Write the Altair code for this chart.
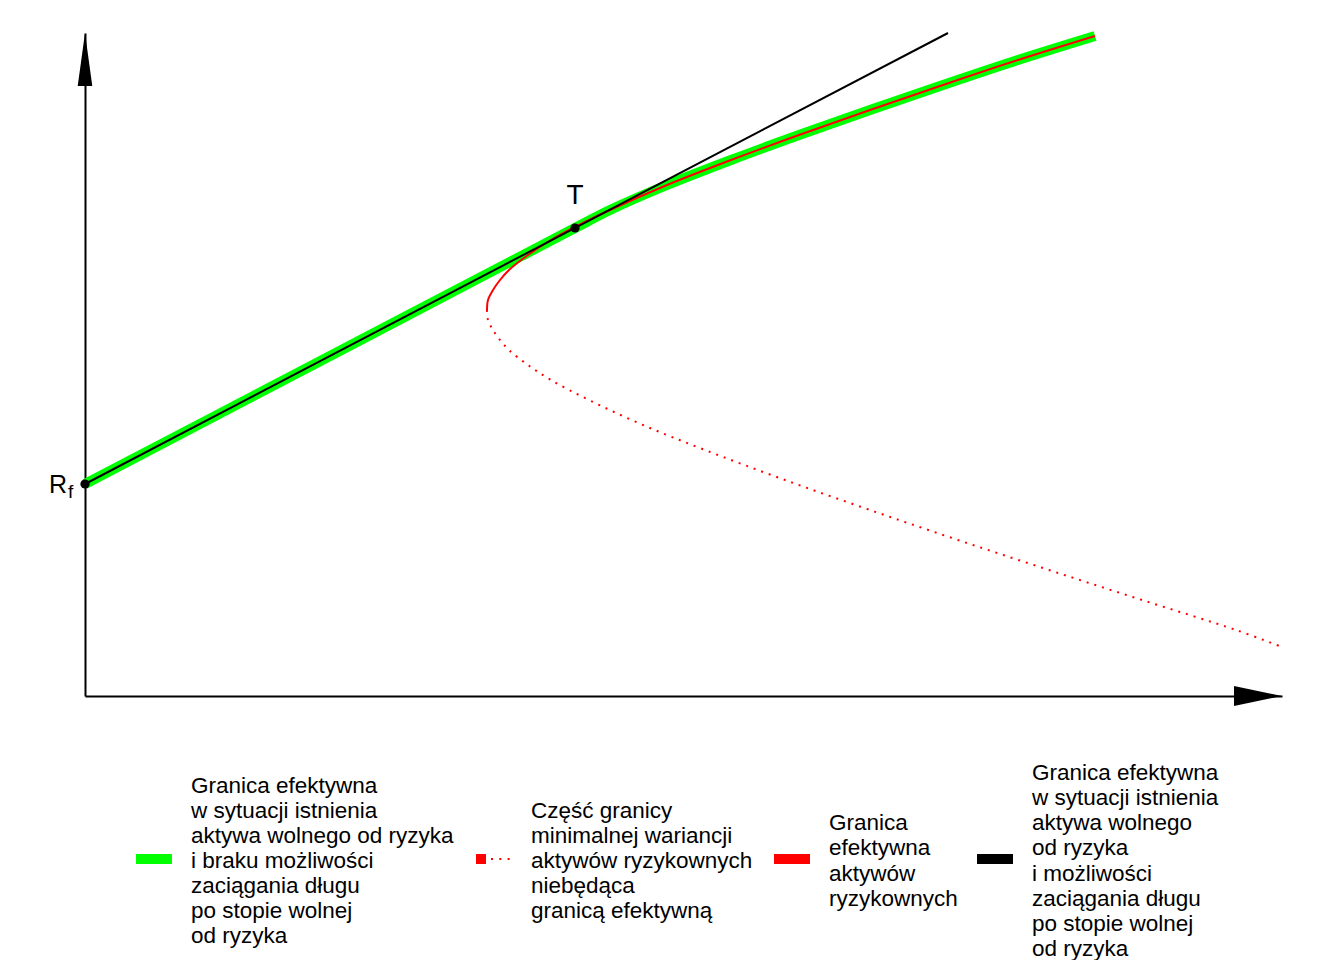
import altair as alt
import pandas as pd

# ---- values (x: risk, y: expected return; arbitrary units) ----
# upper branch of the minimum-variance hyperbola (efficient frontier of risky assets)
upper_sigma = [40.2, 40.3, 40.8, 41.5, 42.4, 44.3, 46.6, 48.8, 52.5, 58.2, 64.6, 71.4, 78.5, 85.8, 93.3, 101.0]
upper_ret = [38.6, 39.6, 40.6, 41.6, 42.6, 44.1, 45.6, 46.8, 48.6, 51.1, 53.6, 56.1, 58.6, 61.1, 63.6, 66.0]
# lower branch (not efficient)
lower_sigma = [40.2, 40.3, 40.8, 41.5, 42.4, 44.3, 46.6, 50.4, 55.8, 62.0, 70.0, 78.5, 87.3, 96.4, 105.7, 115.1, 119.7]
lower_ret = [38.6, 37.6, 36.6, 35.6, 34.6, 33.1, 31.6, 29.6, 27.1, 24.6, 21.6, 18.6, 15.6, 12.6, 9.6, 6.6, 4.9]
# frontier with risk-free asset, no borrowing (Rf -> T, then along the risky frontier)
green_sigma = [0.0, 24.5, 49.0, 52.5, 58.2, 64.6, 71.4, 78.5, 85.8, 93.3, 101.0]
green_ret = [21.2, 34.0, 46.8, 48.6, 51.1, 53.6, 56.1, 58.6, 61.1, 63.6, 66.0]
# capital market line with borrowing
cml_sigma = [0.0, 86.3]
cml_ret = [21.2, 66.3]
# named points
point_labels = ["R", "T"]
point_sigma = [0.0, 49.0]
point_ret = [21.2, 46.8]
# axis ends
x_max = 119.7
y_max = 66.3

series_names = [
    "Granica efektywna|w sytuacji istnienia|aktywa wolnego od ryzyka|i braku możliwości|zaciągania długu|po stopie wolnej|od ryzyka",
    "Część granicy|minimalnej wariancji|aktywów ryzykownych|niebędąca|granicą efektywną",
    "Granica|efektywna|aktywów|ryzykownych",
    "Granica efektywna|w sytuacji istnienia|aktywa wolnego|od ryzyka|i możliwości|zaciągania długu|po stopie wolnej|od ryzyka",
]
series_colors = ["#00ff00", "#ff0000", "#ff0000", "#000000"]
series_dotted = [False, True, False, False]

# ---- layout / style (pixels) ----
FONT = "Liberation Sans"
PLOT_W, PLOT_H = 1197, 663
PAD_L, PAD_T = 85, 33
LEG_SYM_X = [51, 391, 689, 892]      # legend symbol left edges, relative to plot left
LEG_SYM_W, LEG_SYM_H = 36, 10
LEG_LABEL_GAP = 20
LEG_CENTER_Y = 826                   # legend row centre, relative to plot top
LEG_FONT, LEG_LH = 22.5, 25.1


def frame(xs_, ys_):
    return pd.DataFrame({"sigma": xs_, "ret": ys_, "i": list(range(len(xs_)))})


xs = alt.Scale(domain=[0, x_max], nice=False, zero=False)
ys = alt.Scale(domain=[0, y_max], nice=False, zero=False)
x_axis = alt.Axis(domain=True, domainColor="black", domainWidth=2, ticks=False,
                  labels=False, grid=False, title=None)
y_axis = alt.Axis(domain=True, domainColor="black", domainWidth=2, ticks=False,
                  labels=False, grid=False, title=None)


def enc(chart):
    return chart.encode(
        x=alt.X("sigma:Q", scale=xs, axis=x_axis),
        y=alt.Y("ret:Q", scale=ys, axis=y_axis),
    )


def curve(xs_, ys_, **kw):
    return enc(alt.Chart(frame(xs_, ys_)).mark_line(interpolate="catmull-rom", **kw)).encode(
        order="i:Q")


green = curve(green_sigma, green_ret, color="#00ff00", strokeWidth=10, strokeCap="butt")
red_upper = curve(upper_sigma, upper_ret, color="#ff0000", strokeWidth=2)
red_lower = curve(lower_sigma, lower_ret, color="#ff0000", strokeWidth=2, strokeDash=[2, 6])
black = curve(cml_sigma, cml_ret, color="#000000", strokeWidth=2)

pts_df = pd.DataFrame({"sigma": point_sigma, "ret": point_ret, "lab": point_labels})
pts = enc(alt.Chart(pts_df).mark_point(filled=True, color="black", opacity=1, size=85, shape="circle"))

r_text = enc(alt.Chart(pts_df[pts_df.lab == "R"]).mark_text(
    font=FONT, fontSize=25, align="right", baseline="alphabetic", dx=-18, dy=9, color="black")).encode(
    text="lab:N")
f_text = enc(alt.Chart(pts_df[pts_df.lab == "R"]).mark_text(
    font=FONT, fontSize=19, align="left", baseline="alphabetic", dx=-17, dy=14, color="black")).encode(
    text=alt.value("f"))
t_text = enc(alt.Chart(pts_df[pts_df.lab == "T"]).mark_text(
    font=FONT, fontSize=28, align="center", baseline="alphabetic", dx=0, dy=-24, color="black")).encode(
    text="lab:N")

y_arrow = enc(alt.Chart(pd.DataFrame({"sigma": [0.0], "ret": [y_max]})).mark_point(
    shape="M0,0L0.275,2L-0.275,2Z", size=2809, filled=True, color="black", opacity=1))
x_arrow = enc(alt.Chart(pd.DataFrame({"sigma": [x_max], "ret": [0.0]})).mark_point(
    shape="M0,0L-2,-0.42L-2,0.42Z", size=2304, filled=True, color="black", opacity=1))

# ---- legend (drawn below the plot, centred on one row) ----
legend_layers = []
for name, col, dotted, x0 in zip(series_names, series_colors, series_dotted, LEG_SYM_X):
    row = pd.DataFrame({"label": [name]})
    if dotted:
        legend_layers.append(alt.Chart(row).mark_rect(color=col).encode(
            x=alt.value(x0), x2=alt.value(x0 + LEG_SYM_H),
            y=alt.value(LEG_CENTER_Y - LEG_SYM_H / 2), y2=alt.value(LEG_CENTER_Y + LEG_SYM_H / 2)))
        legend_layers.append(alt.Chart(row).mark_rule(color=col, strokeWidth=2, strokeDash=[2, 6.3]).encode(
            x=alt.value(x0 + 15), x2=alt.value(x0 + LEG_SYM_W),
            y=alt.value(LEG_CENTER_Y)))
    else:
        legend_layers.append(alt.Chart(row).mark_rect(color=col).encode(
            x=alt.value(x0), x2=alt.value(x0 + LEG_SYM_W),
            y=alt.value(LEG_CENTER_Y - LEG_SYM_H / 2), y2=alt.value(LEG_CENTER_Y + LEG_SYM_H / 2)))
    n_lines = len(name.split("|"))
    first_y = LEG_CENTER_Y + 2 - (n_lines - 1) * LEG_LH / 2
    legend_layers.append(alt.Chart(row).mark_text(
        font=FONT, fontSize=LEG_FONT, lineHeight=LEG_LH, lineBreak="|", align="left",
        baseline="middle", color="black").encode(
        x=alt.value(x0 + LEG_SYM_W + LEG_LABEL_GAP - 1), y=alt.value(first_y), text="label:N"))

chart = alt.layer(
    green, red_upper, red_lower, black, pts, r_text, f_text, t_text, y_arrow, x_arrow, *legend_layers
).properties(
    width=PLOT_W, height=PLOT_H,
    autosize=alt.AutoSizeParams(type="none"),
    padding={"left": PAD_L, "top": PAD_T, "right": 1344 - PAD_L - PLOT_W, "bottom": 960 - PAD_T - PLOT_H},
    background="white",
).configure_view(stroke=None)

chart.save("out.html", embed_options={"renderer": "svg", "actions": False})
